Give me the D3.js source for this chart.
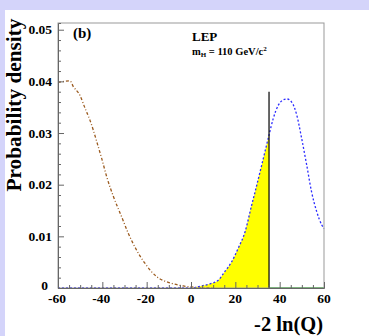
<!DOCTYPE html>
<html>
<head>
<meta charset="utf-8">
<script src="https://cdn.jsdelivr.net/npm/d3@7"></script>
<style>
  body { margin:0; background:#fff; }
  svg text { font-family:"Liberation Serif","DejaVu Serif",serif; font-weight:bold; }
</style>
</head>
<body>
<script>
// background-only curve (brown dash-dot)
var bgX = [-60,-57,-54.6,-53.1,-50.1,-47.8,-45.6,-44.1,-42.5,-40.3,-38,-35,-31.3,-28.3,-24.5,-20.8,-15.5,-9.5,-3.5,0,2.6,6,10];
var bgY = [0.0398,0.0400,0.0401,0.0390,0.0373,0.0348,0.0325,0.0306,0.0283,0.0251,0.0215,0.0177,0.0138,0.0106,0.0073,0.0048,0.0022,0.0010,0.0004,0.0002,0.0001,0,0];
// signal+background curve (blue dotted)
var sbX = [-60,0,4.8,8.6,12.3,15.3,18.4,21.3,24.4,27.4,28.9,31.9,35.2,37.1,39.4,41.5,43.2,45.4,47.7,49.9,52.2,54.4,56.7,59,60];
var sbY = [0,0,0.0004,0.0008,0.0015,0.0032,0.0051,0.0077,0.0109,0.0161,0.0186,0.0238,0.0296,0.0328,0.0354,0.0364,0.0366,0.0360,0.0335,0.0290,0.0238,0.0186,0.0148,0.0122,0.0115];
var observed = 35.2;
var observedTop = 0.038;
var xTicks = [-60,-40,-20,0,20,40,60];
var yTicks = [0,0.01,0.02,0.03,0.04,0.05];

var W = 369, H = 336;
var margins = {top:23, bottom:48, left:58, right:45};
var svg = d3.select("body").append("svg").attr("width",W).attr("height",H);

// lavender canvas edges
svg.append("rect").attr("x",0).attr("y",0).attr("width",W).attr("height",10).attr("fill","#d4d4fa");
svg.append("rect").attr("x",0).attr("y",0).attr("width",5).attr("height",H).attr("fill","#d4d4fa");

var x = d3.scaleLinear().domain([-60,60]).range([margins.left, W-margins.right]);
var y = d3.scaleLinear().domain([0,0.0513]).range([H-margins.bottom, margins.top]);

var sb = sbX.map(function(d,i){ return [d, sbY[i]]; });
var bg = bgX.map(function(d,i){ return [d, bgY[i]]; });

var line = d3.line().x(function(d){ return x(d[0]); }).y(function(d){ return y(d[1]); }).curve(d3.curveMonotoneX);

// yellow area under s+b up to observed value
var fillPts = sb.filter(function(d){ return d[0] >= 0 && d[0] <= observed; });
var area = d3.area().x(function(d){ return x(d[0]); }).y0(y(0)).y1(function(d){ return y(d[1]); }).curve(d3.curveMonotoneX);
svg.append("path").datum(fillPts).attr("d",area).attr("fill","#ffff00");

// green baseline on the right
svg.append("line").attr("x1",x(observed)).attr("x2",x(60)).attr("y1",y(0)-0.5).attr("y2",y(0)-0.5)
  .attr("stroke","#66cc66").attr("stroke-width",1);

svg.append("path").datum(bg).attr("d",line).attr("fill","none")
  .attr("stroke","#9b5a1e").attr("stroke-width",1.3).attr("stroke-dasharray","3,2,1,2");
svg.append("path").datum(sb).attr("d",line).attr("fill","none")
  .attr("stroke","#2b2bff").attr("stroke-width",1.3).attr("stroke-dasharray","2,2");

// observed line
svg.append("line").attr("x1",x(observed)).attr("x2",x(observed)).attr("y1",y(0)).attr("y2",y(observedTop))
  .attr("stroke","#000").attr("stroke-width",1.2);

// frame
svg.append("rect").attr("x",x(-60)).attr("y",y.range()[1]).attr("width",x(60)-x(-60)).attr("height",y(0)-y.range()[1])
  .attr("fill","none").attr("stroke","#999").attr("stroke-width",1);

// axes with inward ticks
var xAxis = d3.axisTop(x).tickValues(d3.range(-60,61,5)).tickSize(3).tickFormat("");
var gx = svg.append("g").attr("transform","translate(0,"+y(0)+")").call(xAxis);
gx.selectAll(".tick line").filter(function(d){ return d % 20 === 0; }).attr("y2",-6);
gx.select(".domain").attr("stroke","#666");
gx.selectAll(".tick line").attr("stroke","#666");
svg.selectAll(".xlab").data(xTicks).enter().append("text").attr("class","xlab")
  .attr("x",function(d){ return x(d) + (d < 0 ? -1 : 0); }).attr("y",y(0)+15).attr("text-anchor","middle")
  .attr("font-size",13.5).text(function(d){ return d; });

var yAxis = d3.axisRight(y).tickValues(d3.range(0,0.0501,0.002)).tickSize(3).tickFormat("");
var gy = svg.append("g").attr("transform","translate("+x(-60)+",0)").call(yAxis);
gy.selectAll(".tick line").filter(function(d,i){ return i % 5 === 0; }).attr("x2",6);
gy.select(".domain").attr("stroke","#666");
gy.selectAll(".tick line").attr("stroke","#666");
svg.selectAll(".ylab").data(yTicks).enter().append("text").attr("class","ylab")
  .attr("x",function(d){ return d === 0 ? x(-60)-10 : x(-60)-6; })
  .attr("y",function(d){ return y(d) + (d === 0 ? 2 : 4.5); }).attr("text-anchor","end")
  .attr("font-size",13.5).text(function(d){ return d === 0 ? "0" : d.toFixed(2); });

// labels
svg.append("text").attr("transform","translate(21,105) rotate(-90)").attr("text-anchor","middle")
  .attr("font-size",21.3).text("Probability density");
svg.append("text").attr("x",323).attr("y",331).attr("text-anchor","end").attr("font-size",20.5).text("-2 ln(Q)");
svg.append("text").attr("x",73).attr("y",38).attr("font-size",15).text("(b)");
svg.append("text").attr("x",192).attr("y",41).attr("font-size",13).text("LEP");
var mh = svg.append("text").attr("x",192).attr("y",55).attr("font-size",10.5);
mh.append("tspan").text("m");
mh.append("tspan").attr("font-size",7).attr("dy",2).text("H");
mh.append("tspan").attr("dy",-2).text(" = 110 GeV/c");
mh.append("tspan").attr("font-size",7).attr("dy",-4.5).text("2");
</script>
</body>
</html>
